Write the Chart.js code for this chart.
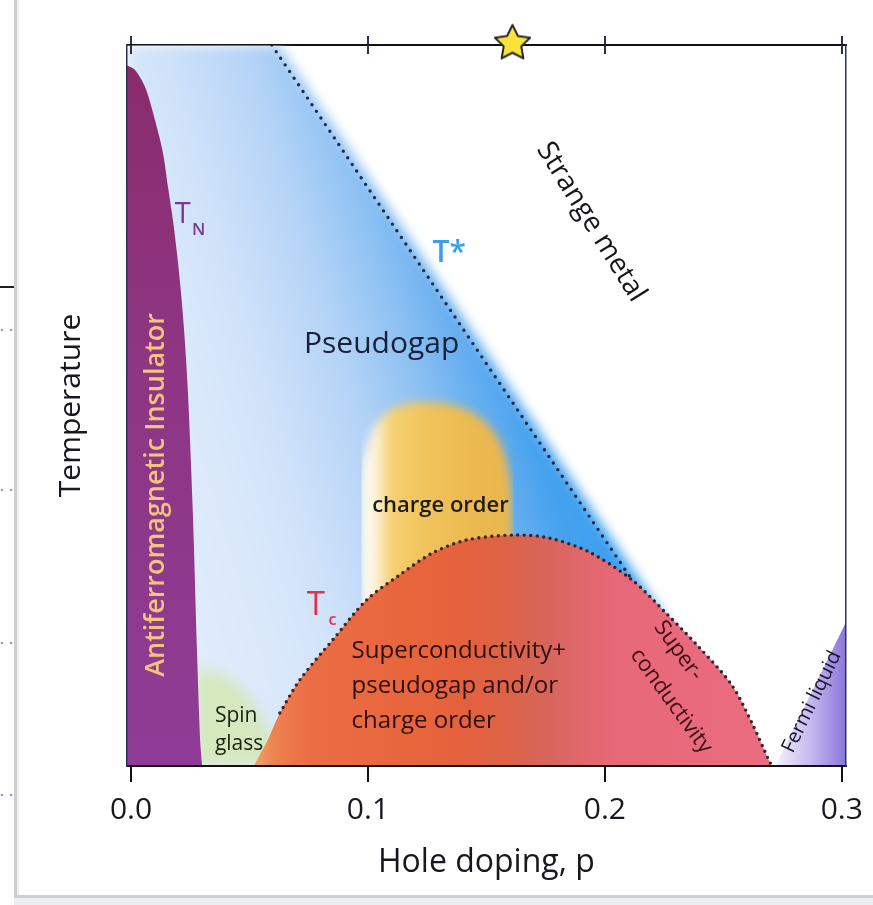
<!DOCTYPE html>
<html>
<head>
<meta charset="utf-8">
<title>Cuprate phase diagram</title>
<script src="https://cdn.jsdelivr.net/npm/chart.js@4.4.1/dist/chart.umd.min.js"></script>
<style>
  html, body { margin: 0; padding: 0; background: #ffffff; }
  canvas { display: block; }
</style>
</head>
<body>
<canvas id="phase" width="873" height="905"></canvas>
<script>
// ---- Axis ----
const dopingTicks = [0.0, 0.1, 0.2, 0.3];
const dopingMin = -0.0017;
const dopingMax = 0.3017;

// ---- Antiferromagnetic insulator (below T_N) ----
const afDoping = [-0.0017, 0.0015, 0.0059, 0.0101, 0.0135, 0.0156, 0.0177, 0.0194, 0.0210, 0.0225, 0.0240, 0.0261, 0.0278, 0.0291, 0.0300];
const afTemp   = [0.972, 0.966, 0.942, 0.896, 0.850, 0.803, 0.757, 0.711, 0.660, 0.600, 0.520, 0.351, 0.165, 0.040, 0.0];

// ---- Pseudogap region (blue, reaching just past T*) ----
const pgDoping = [-0.0017, 0.0625, 0.2145, 0.2680];
const pgTemp   = [1.0, 1.0, 0.258, 0.0];

// ---- T* crossover line ----
const tStarDoping = [0.0594, 0.2115];
const tStarTemp   = [1.0, 0.258];

// ---- Charge order ----
const coDoping = [0.0973, 0.0973, 0.0995, 0.1028, 0.1091, 0.1176, 0.1268, 0.1365, 0.1462, 0.1534, 0.1580, 0.1606, 0.1614];
const coTemp   = [0.200, 0.410, 0.444, 0.472, 0.493, 0.503, 0.504, 0.500, 0.486, 0.4625, 0.430, 0.382, 0.200];

// ---- Superconducting dome (T_c) ----
const scDoping = [0.0518, 0.0577, 0.0628, 0.0712, 0.0851, 0.0994, 0.1133, 0.1272, 0.1416, 0.1618, 0.1765, 0.1934, 0.2115, 0.2258, 0.2397, 0.2536, 0.2621, 0.2692, 0.2705];
const scTemp   = [0.0, 0.036, 0.0735, 0.1193, 0.1748, 0.2302, 0.2649, 0.2954, 0.3135, 0.3204, 0.3162, 0.2968, 0.2580, 0.2122, 0.1650, 0.1123, 0.0596, 0.0083, 0.0];
const tcLineFrom = 2; // the dotted T_c line starts above the spin-glass corner

// ---- Spin glass ----
const sgDoping = [0.027, 0.040, 0.050, 0.058, 0.066];
const sgTemp   = [0.135, 0.125, 0.095, 0.050, 0.0];

// ---- Fermi liquid ----
const flDoping = [0.2720, 0.3017];
const flTemp   = [0.0, 0.199];

// ---- Optimal doping marker ----
const starDoping = [0.161];
const starTemp   = [1.0];

const FONT = "'Open Sans', 'Noto Sans', sans-serif";

function pts(xs, ys) { return xs.map((x, i) => ({ x: x, y: ys[i] })); }

// horizontal gradient with stops given in doping units
function hGradient(stops) {
  return (context) => {
    const chart = context.chart;
    if (!chart.chartArea) return 'rgba(0,0,0,0)';
    const xs = chart.scales.x;
    const x0 = xs.getPixelForValue(stops[0][0]);
    const x1 = xs.getPixelForValue(stops[stops.length - 1][0]);
    const g = chart.ctx.createLinearGradient(x0, 0, x1, 0);
    stops.forEach(([p, c]) => g.addColorStop(Math.min(1, Math.max(0, (xs.getPixelForValue(p) - x0) / (x1 - x0))), c));
    return g;
  };
}
// vertical gradient with stops given in temperature units
function vGradient(stops) {
  return (context) => {
    const chart = context.chart;
    if (!chart.chartArea) return 'rgba(0,0,0,0)';
    const ys = chart.scales.y;
    const y0 = ys.getPixelForValue(stops[0][0]);
    const y1 = ys.getPixelForValue(stops[stops.length - 1][0]);
    const g = chart.ctx.createLinearGradient(0, y0, 0, y1);
    stops.forEach(([t, c]) => g.addColorStop(Math.min(1, Math.max(0, (ys.getPixelForValue(t) - y0) / (y1 - y0))), c));
    return g;
  };
}
// oblique gradient: deepens towards the right and downwards (toward the T* line)
function pseudogapGradient(stops, slope) {
  return (context) => {
    const chart = context.chart;
    const a = chart.chartArea;
    if (!a) return 'rgba(0,0,0,0)';
    const s0 = stops[0][0], s1 = stops[stops.length - 1][0];
    const k = 1 / (1 + slope * slope);
    const g = chart.ctx.createLinearGradient(
      a.left + s0 * k, a.top - s0 * k * slope,
      a.left + s1 * k, a.top - s1 * k * slope);
    stops.forEach(([s, c]) => g.addColorStop((s - s0) / (s1 - s0), c));
    return g;
  };
}

// five-pointed star used as the point style of the marker
function makeStar(r) {
  const c = document.createElement('canvas');
  const s = Math.ceil(r * 2 + 8);
  c.width = s; c.height = s;
  const g = c.getContext('2d');
  g.translate(s / 2, s / 2 - 1.5);
  g.beginPath();
  for (let i = 0; i < 10; i++) {
    const rad = i % 2 ? r * 0.5 : r;
    const a = -Math.PI / 2 + i * Math.PI / 5;
    g.lineTo(rad * Math.cos(a), rad * Math.sin(a));
  }
  g.closePath();
  g.fillStyle = '#f7e33c';
  g.fill();
  g.lineWidth = 2;
  g.strokeStyle = '#262626';
  g.lineJoin = 'round';
  g.stroke();
  return c;
}

// region labels, anchored in data coordinates
const regionLabels = [
  { text: 'Strange metal', p: 0.1942, t: 0.7545, size: 28, color: '#15151c', rot: 58, align: 'center', base: 'middle' },
  { text: 'T*', p: 0.1273, t: 0.699, size: 30, weight: '600', color: '#38a0ea', align: 'left', base: 'alphabetic' },
  { text: 'T', p: 0.0185, t: 0.753, size: 29, color: '#7b3a8f', align: 'left', base: 'alphabetic' },
  { text: 'N', p: 0.0257, t: 0.7365, size: 17, weight: '600', color: '#7b3a8f', align: 'left', base: 'alphabetic' },
  { text: 'Pseudogap', p: 0.1058, t: 0.573, size: 30, color: '#18203a', align: 'center', base: 'alphabetic' },
  { text: 'charge order', p: 0.1306, t: 0.3523, size: 22, weight: '600', color: '#1b1b1b', align: 'center', base: 'alphabetic' },
  { text: 'T', p: 0.0742, t: 0.2094, size: 33, color: '#e23248', align: 'left', base: 'alphabetic' },
  { text: 'c', p: 0.0834, t: 0.1956, size: 16, weight: '600', color: '#e23248', align: 'left', base: 'alphabetic' },
  { text: 'Superconductivity+', p: 0.0931, t: 0.1498, size: 24, color: '#2a0f0f', align: 'left', base: 'alphabetic' },
  { text: 'pseudogap and/or', p: 0.0931, t: 0.1012, size: 24, color: '#2a0f0f', align: 'left', base: 'alphabetic' },
  { text: 'charge order', p: 0.0931, t: 0.0527, size: 24, color: '#2a0f0f', align: 'left', base: 'alphabetic' },
  { text: 'Antiferromagnetic Insulator', p: 0.0139, t: 0.3759, size: 27, weight: '600', color: '#f4c37c', rot: -90, align: 'center', base: 'alphabetic' },
  { text: 'Spin', p: 0.0354, t: 0.061, size: 21, color: '#18220f', align: 'left', base: 'alphabetic' },
  { text: 'glass', p: 0.0354, t: 0.0222, size: 21, color: '#18220f', align: 'left', base: 'alphabetic' },
  { text: 'Super-', p: 0.2310, t: 0.1600, size: 22, color: '#3a0d10', rot: 54, align: 'center', base: 'middle' },
  { text: 'conductivity', p: 0.2280, t: 0.0900, size: 22, color: '#3a0d10', rot: 54, align: 'center', base: 'middle' },
  { text: 'Fermi liquid', p: 0.2874, t: 0.0888, size: 20, color: '#18182a', rot: -64, align: 'center', base: 'middle' }
];

// paints page background and the thin card edge around the figure
const cardPlugin = {
  id: 'card',
  beforeDraw(chart) {
    const ctx = chart.ctx;
    ctx.save();
    ctx.fillStyle = '#ffffff';
    ctx.fillRect(0, 0, chart.width, chart.height);
    ctx.fillStyle = '#cfcfd2';
    ctx.fillRect(14, 0, 3, chart.height);
    ctx.fillRect(14, 895, chart.width - 14, 3);
    ctx.fillStyle = '#eceef2';
    ctx.fillRect(17, 0, 2, 895);
    ctx.fillRect(14, 898, chart.width - 14, 7);
    ctx.fillStyle = '#1e1e24';
    ctx.fillRect(0, 286, 14, 2);
    ctx.fillStyle = 'rgba(70,80,140,0.55)';
    [330, 490, 643, 795].forEach(y => {
      ctx.beginPath(); ctx.arc(2, y, 1.3, 0, Math.PI * 2); ctx.fill();
      ctx.beginPath(); ctx.arc(11, y, 1.3, 0, Math.PI * 2); ctx.fill();
    });
    ctx.restore();
  }
};

// soft (blurred) edges for datasets that carry a softEdge value
function applySoft(chart, meta) {
  const ds = meta ? chart.data.datasets[meta.index] : null;
  const b = ds && ds.softEdge ? ds.softEdge : 0;
  chart.ctx.filter = b ? 'blur(' + b + 'px)' : 'none';
}
const softPlugin = {
  id: 'softEdges',
  beforeDatasetsDraw(chart) {
    const metas = chart.getSortedVisibleDatasetMetas();
    applySoft(chart, metas[metas.length - 1]);
  },
  afterDatasetDraw(chart, args) {
    const metas = chart.getSortedVisibleDatasetMetas();
    const i = metas.indexOf(args.meta);
    applySoft(chart, i > 0 ? metas[i - 1] : null);
  },
  afterDatasetsDraw(chart) { chart.ctx.filter = 'none'; }
};

// text labels for the phases
const labelPlugin = {
  id: 'regionLabels',
  afterDatasetsDraw(chart) {
    const ctx = chart.ctx;
    const xs = chart.scales.x, ys = chart.scales.y;
    regionLabels.forEach(l => {
      ctx.save();
      ctx.translate(xs.getPixelForValue(l.p), ys.getPixelForValue(l.t));
      if (l.rot) ctx.rotate(l.rot * Math.PI / 180);
      ctx.font = (l.weight || 'normal') + ' ' + l.size + 'px ' + FONT;
      ctx.fillStyle = l.color;
      ctx.textAlign = l.align;
      ctx.textBaseline = l.base;
      ctx.fillText(l.text, 0, 0);
      ctx.restore();
    });
  }
};

function setTicks(scale) { scale.ticks = dopingTicks.map(v => ({ value: v })); }

function build() {
  const star = makeStar(18.5);
  const ctx = document.getElementById('phase').getContext('2d');
  new Chart(ctx, {
    type: 'line',
    data: {
      datasets: [
        { label: 'Optimal doping', data: pts(starDoping, starTemp), showLine: false,
          pointStyle: star, pointRadius: 18, clip: false, order: 1 },
        { label: 'T*', data: pts(tStarDoping, tStarTemp), fill: false, borderColor: '#1d2a48',
          borderWidth: 3.4, borderDash: [0, 8], borderCapStyle: 'round', pointRadius: 0, order: 2 },
        { label: 'Antiferromagnetic insulator', data: pts(afDoping, afTemp), fill: 'origin', borderWidth: 0,
          pointRadius: 0, tension: 0.3,
          backgroundColor: vGradient([[0.97, '#8a2b6c'], [0.6, '#8e3582'], [0.0, '#8f3c96']]), order: 3 },
        { label: 'Fermi liquid', data: pts(flDoping, flTemp), fill: 'origin', borderWidth: 0, pointRadius: 0,
          backgroundColor: hGradient([[0.272, '#f4f2fc'], [0.287, '#c4b8ee'], [0.3017, '#8a76dc']]), order: 4 },
        { label: 'T_c', data: pts(scDoping.slice(tcLineFrom), scTemp.slice(tcLineFrom)), fill: false, pointRadius: 0,
          tension: 0.3, borderColor: 'rgba(48,30,34,0.95)', borderWidth: 3.4, borderDash: [0, 6.5],
          borderCapStyle: 'round', order: 5 },
        { label: 'Superconductivity', data: pts(scDoping, scTemp), fill: 'origin', pointRadius: 0, tension: 0.3,
          borderWidth: 0,
          backgroundColor: hGradient([[0.0518, '#efa468'], [0.060, '#ed8350'], [0.075, '#eb6d44'], [0.12, '#e8653c'],
            [0.14, '#e4613c'], [0.16, '#dc6348'], [0.175, '#d7655a'], [0.19, '#e0676c'], [0.205, '#e76878'], [0.2705, '#ea6c80']]),
          order: 6 },
        { label: 'Spin glass', data: pts(sgDoping, sgTemp), fill: 'origin', borderWidth: 0, pointRadius: 0, tension: 0.3,
          backgroundColor: 'rgba(212,231,184,0.92)', softEdge: 7, order: 7 },
        { label: 'Charge order', data: pts(coDoping, coTemp), fill: 'origin', borderWidth: 0, pointRadius: 0, tension: 0.3,
          backgroundColor: hGradient([[0.0973, '#ffffff'], [0.104, '#fbeed0'], [0.110, '#f5cf70'], [0.125, '#f0c35a'],
            [0.145, '#ebb94f'], [0.1614, '#e9b64c']]),
          softEdge: 5, order: 8 },
        { label: 'Pseudogap', data: pts(pgDoping, pgTemp), fill: 'origin', borderWidth: 0, pointRadius: 0,
          backgroundColor: pseudogapGradient([[-110, '#e0ecfb'], [0, '#d6e6fa'], [40, '#cde1f9'], [120, '#b4d3f6'],
            [190, '#8cc0f2'], [240, '#68aff0'], [290, '#45a1ee'], [350, '#3a9ff0']], 0.3),
          softEdge: 6, order: 9 }
      ]
    },
    options: {
      responsive: false,
      animation: false,
      events: [],
      layout: { autoPadding: false, padding: { left: 49, right: 26, top: 45, bottom: 23 } },
      plugins: { legend: { display: false }, tooltip: { enabled: false } },
      scales: {
        x: {
          type: 'linear', position: 'bottom', min: dopingMin, max: dopingMax,
          afterBuildTicks: setTicks,
          afterFit: s => { s.height = 116; },
          ticks: { callback: v => Number(v).toFixed(1), font: { family: FONT, size: 30 }, color: '#16171f',
                   padding: 10, maxRotation: 0, autoSkip: false },
          grid: { drawOnChartArea: false, drawTicks: true, tickLength: 16, color: '#111111', lineWidth: 2 },
          border: { display: true, color: '#111111', width: 2, z: 1 },
          title: { display: true, text: 'Hole doping, p', font: { family: FONT, size: 32 }, color: '#16171f', padding: 0 }
        },
        xTop: {
          type: 'linear', position: 'top', min: dopingMin, max: dopingMax,
          afterBuildTicks: setTicks,
          afterFit: s => { s.height = 0; },
          ticks: { display: false },
          grid: { drawOnChartArea: false, drawTicks: true, tickLength: 9, color: '#2a3050', lineWidth: 2 },
          border: { display: true, color: '#111111', width: 2, z: 0 }
        },
        xTopIn: {
          type: 'linear', position: 'top', min: dopingMin, max: dopingMax,
          afterBuildTicks: setTicks,
          afterFit: s => { s.height = 0; },
          ticks: { display: false },
          grid: { drawOnChartArea: false, drawTicks: true, tickLength: -9, color: '#2a3050', lineWidth: 2, z: 1 },
          border: { display: false }
        },
        y: {
          type: 'linear', position: 'left', min: 0, max: 1,
          afterFit: s => { s.width = 78; },
          ticks: { display: false },
          grid: { display: false },
          border: { display: true, color: '#2e3350', width: 1.5, z: 1 },
          title: { display: true, text: 'Temperature', font: { family: FONT, size: 30 }, color: '#16171f',
                   padding: { top: 4, bottom: 0 } }
        },
        yRight: {
          type: 'linear', position: 'right', min: 0, max: 1,
          afterFit: s => { s.width = 0; },
          ticks: { display: false },
          grid: { display: false },
          border: { display: true, color: '#2e3350', width: 1.5, z: 1 }
        }
      }
    },
    plugins: [cardPlugin, softPlugin, labelPlugin]
  });
}

if (document.fonts && document.fonts.load) {
  Promise.all([
    document.fonts.load("30px 'Open Sans'"),
    document.fonts.load("600 30px 'Open Sans'")
  ]).then(build, build);
} else {
  build();
}
</script>
</body>
</html>
